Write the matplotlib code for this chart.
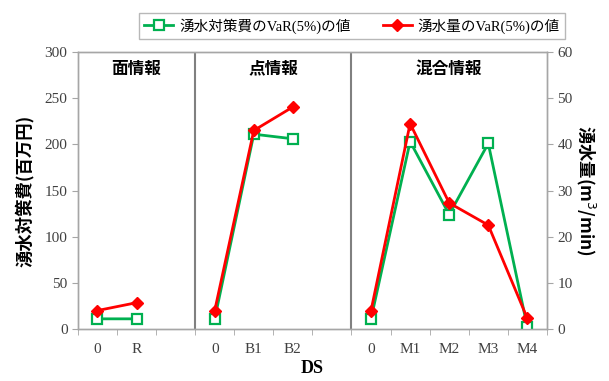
import matplotlib.pyplot as plt
import numpy as np

# categories per section (blank slots separate the sections)
categories = ['0', 'R', '', '0', 'B1', 'B2', '', '0', 'M1', 'M2', 'M3', 'M4']
sections = ['面情報', '点情報', '混合情報']
section_bounds = [(-0.5, 2.5), (2.5, 6.5), (6.5, 11.5)]

# VaR(5%) of countermeasure cost [million yen]
cost_var = [11, 11, None, 11, 211, 206, None, 11, 203, 124, 201, 2]
# VaR(5%) of inflow [m3/min]
inflow_var = [4.0, 5.7, None, 4.0, 43.0, 48.1, None, 4.0, 44.5, 27.3, 22.5, 2.3]

serif = ['Liberation Serif', 'Noto Sans CJK JP']
cjk = ['Noto Sans CJK JP', 'DejaVu Sans']
grey = '#a6a6a6'

x = np.arange(len(categories))
cost = np.array([np.nan if v is None else v for v in cost_var], dtype=float)
inflow = np.array([np.nan if v is None else v for v in inflow_var], dtype=float)

fig = plt.figure(figsize=(6.09, 3.81), dpi=100)
ax = fig.add_axes([0.128, 0.1365, 0.77, 0.727])
ax2 = ax.twinx()

l1, = ax.plot(x, cost, color='#00b050', lw=2, marker='s', ms=7.5,
              mfc='white', mec='#00b050', mew=1.6, zorder=3)
l2, = ax2.plot(x, inflow, color='#ff0000', lw=2, marker='D', ms=6.5,
               mfc='#ff0000', mec='#ff0000', zorder=4)

ax.set_xlim(-0.5, len(categories) - 0.5)
ax.set_ylim(0, 300)
ax2.set_ylim(0, 60)
ax.set_yticks(np.arange(0, 301, 50))
ax2.set_yticks(np.arange(0, 61, 10))

ax.set_xticks(x)
ax.set_xticklabels(categories, family=serif, fontsize=11)
ax.set_xticks(np.arange(-0.5, len(categories), 1), minor=True)
ax.tick_params(axis='x', which='major', length=0, pad=10, colors='#404040')
ax.tick_params(axis='x', which='minor', length=4, color=grey, direction='out')
ax.tick_params(axis='y', length=4, color=grey, labelcolor='#404040', labelsize=11)
ax2.tick_params(axis='y', length=4, color=grey, labelcolor='#404040', labelsize=11)
for t in ax.get_yticklabels() + ax2.get_yticklabels():
    t.set_family(serif)

for a in (ax, ax2):
    for s in a.spines.values():
        s.set_color(grey)
        s.set_linewidth(1)

# section separators and titles
for (lo, hi), name in zip(section_bounds, sections):
    if lo > -0.5:
        ax.axvline(lo, color='#808080', lw=1.5, zorder=1)
    ax.text((lo + hi) / 2, 282, name, ha='center', va='center',
            fontsize=12, fontweight='bold', family=cjk)

ax.set_xlabel('DS', family=serif, fontsize=13, fontweight='bold', labelpad=3)
ax.set_ylabel('湧水対策費(百万円)', family=cjk, fontsize=12.5, fontweight='bold', labelpad=8)
ax2.set_ylabel('湧水量(m$^3$/min)', family=cjk, fontsize=12.5, fontweight='bold',
               rotation=270, labelpad=18)

leg = fig.legend([l1, l2], ['湧水対策費のVaR(5%)の値', '湧水量のVaR(5%)の値'],
                 loc='upper center', bbox_to_anchor=(0.578, 0.985), ncol=2,
                 frameon=True, fancybox=False, edgecolor=grey, borderpad=0.35,
                 handlelength=2.0, handletextpad=0.4, columnspacing=2.2,
                 prop={'family': serif, 'size': 10.5})
leg.get_frame().set_linewidth(1)

fig.savefig('out.png', dpi=100)
